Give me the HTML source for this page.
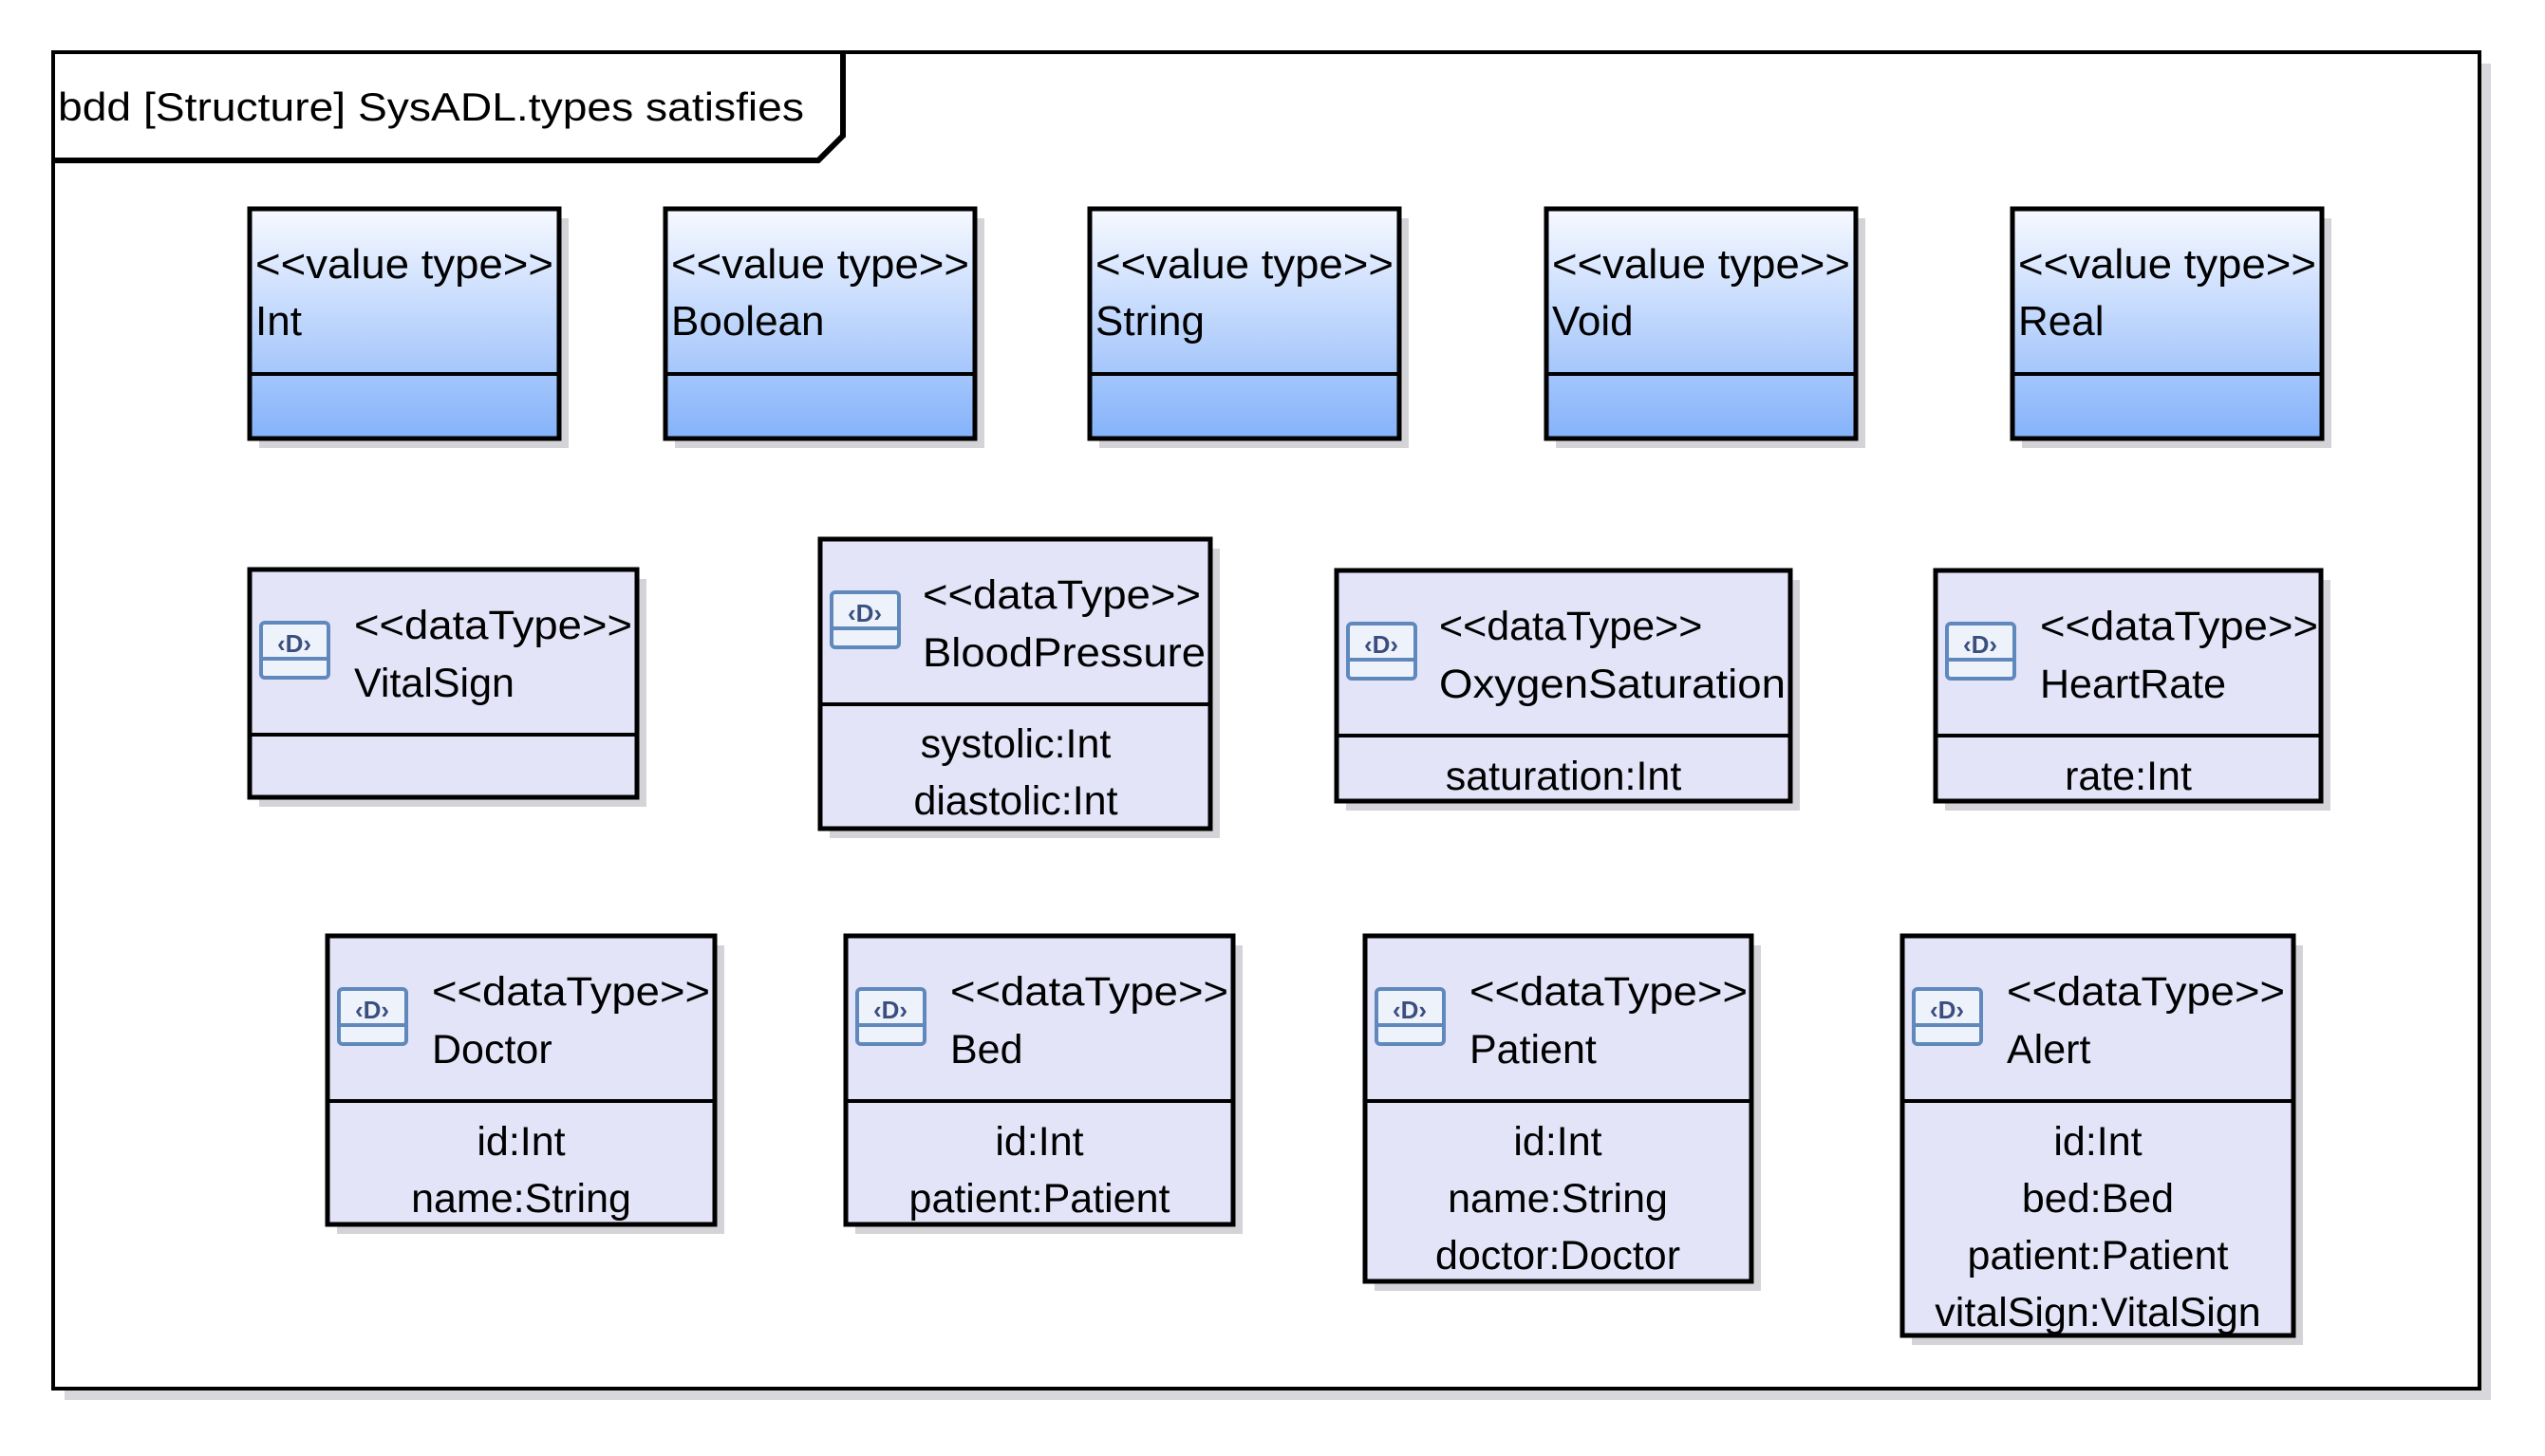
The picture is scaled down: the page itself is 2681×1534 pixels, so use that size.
<!DOCTYPE html>
<html><head><meta charset="utf-8"><style>
html,body{margin:0;padding:0;background:#fff;}
svg{display:block;}
text{font-family:"Liberation Sans","DejaVu Sans",sans-serif;fill:#000;}
</style></head><body>
<svg width="2681" height="1534" viewBox="0 0 2681 1534" xmlns="http://www.w3.org/2000/svg">
<defs>
<linearGradient id="vg" x1="0" y1="0" x2="0" y2="1">
<stop offset="0" stop-color="#f7f9ff"/>
<stop offset="1" stop-color="#84b2fa"/>
</linearGradient>
<g id="ic">
<rect x="2" y="2" width="71" height="58" rx="4" fill="#eef2fa" stroke="#5f88bd" stroke-width="4"/>
<line x1="2" y1="40" x2="73" y2="40" stroke="#5f88bd" stroke-width="4"/>
<text x="37" y="33" font-size="26" font-weight="bold" text-anchor="middle" style="fill:#3a4f80">‹D›</text>
</g>
</defs>

<rect x="68" y="67" width="2556" height="1408" fill="#d8d8dc"/>
<rect x="56" y="55" width="2556" height="1408" fill="#fff" stroke="#000" stroke-width="4"/>
<path d="M58 169 L862 169 L888 143 L888 57" fill="none" stroke="#000" stroke-width="6"/>
<text x="61" y="127" font-size="42" textLength="786" lengthAdjust="spacingAndGlyphs">bdd [Structure] SysADL.types satisfies</text>

<g font-size="44">
<g transform="translate(263,220)">
<rect x="10" y="10" width="326" height="242" fill="#d4d4d8"/>
<rect x="0" y="0" width="326" height="242" fill="url(#vg)" stroke="#000" stroke-width="5"/>
<line x1="0" y1="174" x2="326" y2="174" stroke="#000" stroke-width="4"/>
<text x="6" y="73" textLength="314" lengthAdjust="spacingAndGlyphs">&lt;&lt;value type&gt;&gt;</text><text x="6" y="133">Int</text>
</g>
<g transform="translate(701,220)">
<rect x="10" y="10" width="326" height="242" fill="#d4d4d8"/>
<rect x="0" y="0" width="326" height="242" fill="url(#vg)" stroke="#000" stroke-width="5"/>
<line x1="0" y1="174" x2="326" y2="174" stroke="#000" stroke-width="4"/>
<text x="6" y="73" textLength="314" lengthAdjust="spacingAndGlyphs">&lt;&lt;value type&gt;&gt;</text><text x="6" y="133">Boolean</text>
</g>
<g transform="translate(1148,220)">
<rect x="10" y="10" width="326" height="242" fill="#d4d4d8"/>
<rect x="0" y="0" width="326" height="242" fill="url(#vg)" stroke="#000" stroke-width="5"/>
<line x1="0" y1="174" x2="326" y2="174" stroke="#000" stroke-width="4"/>
<text x="6" y="73" textLength="314" lengthAdjust="spacingAndGlyphs">&lt;&lt;value type&gt;&gt;</text><text x="6" y="133">String</text>
</g>
<g transform="translate(1629,220)">
<rect x="10" y="10" width="326" height="242" fill="#d4d4d8"/>
<rect x="0" y="0" width="326" height="242" fill="url(#vg)" stroke="#000" stroke-width="5"/>
<line x1="0" y1="174" x2="326" y2="174" stroke="#000" stroke-width="4"/>
<text x="6" y="73" textLength="314" lengthAdjust="spacingAndGlyphs">&lt;&lt;value type&gt;&gt;</text><text x="6" y="133">Void</text>
</g>
<g transform="translate(2120,220)">
<rect x="10" y="10" width="326" height="242" fill="#d4d4d8"/>
<rect x="0" y="0" width="326" height="242" fill="url(#vg)" stroke="#000" stroke-width="5"/>
<line x1="0" y1="174" x2="326" y2="174" stroke="#000" stroke-width="4"/>
<text x="6" y="73" textLength="314" lengthAdjust="spacingAndGlyphs">&lt;&lt;value type&gt;&gt;</text><text x="6" y="133">Real</text>
</g>
</g>

<g font-size="43">
<g transform="translate(263,600)">
<rect x="10" y="10" width="408" height="240" fill="#d4d4d8"/>
<rect x="0" y="0" width="408" height="240" fill="#e4e4f8" stroke="#000" stroke-width="5"/>
<line x1="0" y1="174" x2="408" y2="174" stroke="#000" stroke-width="4"/>
<use href="#ic" x="10" y="54"/>
<text x="110" y="73" textLength="293" lengthAdjust="spacingAndGlyphs">&lt;&lt;dataType&gt;&gt;</text><text x="110" y="134">VitalSign</text>
</g>
<g transform="translate(864,568)">
<rect x="10" y="10" width="411" height="305" fill="#d4d4d8"/>
<rect x="0" y="0" width="411" height="305" fill="#e4e4f8" stroke="#000" stroke-width="5"/>
<line x1="0" y1="174" x2="411" y2="174" stroke="#000" stroke-width="4"/>
<use href="#ic" x="10" y="54"/>
<text x="108" y="73" textLength="293" lengthAdjust="spacingAndGlyphs">&lt;&lt;dataType&gt;&gt;</text><text x="108" y="134" textLength="298" lengthAdjust="spacingAndGlyphs">BloodPressure</text>
<text x="206" y="230" text-anchor="middle">systolic:Int</text>
<text x="206" y="290" text-anchor="middle">diastolic:Int</text>
</g>
<g transform="translate(1408,601)">
<rect x="10" y="10" width="478" height="243" fill="#d4d4d8"/>
<rect x="0" y="0" width="478" height="243" fill="#e4e4f8" stroke="#000" stroke-width="5"/>
<line x1="0" y1="174" x2="478" y2="174" stroke="#000" stroke-width="4"/>
<use href="#ic" x="10" y="54"/>
<text x="108" y="73">&lt;&lt;dataType&gt;&gt;</text><text x="108" y="134" textLength="365" lengthAdjust="spacingAndGlyphs">OxygenSaturation</text>
<text x="239" y="231" text-anchor="middle">saturation:Int</text>
</g>
<g transform="translate(2039,601)">
<rect x="10" y="10" width="406" height="243" fill="#d4d4d8"/>
<rect x="0" y="0" width="406" height="243" fill="#e4e4f8" stroke="#000" stroke-width="5"/>
<line x1="0" y1="174" x2="406" y2="174" stroke="#000" stroke-width="4"/>
<use href="#ic" x="10" y="54"/>
<text x="110" y="73" textLength="293" lengthAdjust="spacingAndGlyphs">&lt;&lt;dataType&gt;&gt;</text><text x="110" y="134">HeartRate</text>
<text x="203" y="231" text-anchor="middle">rate:Int</text>
</g>
<g transform="translate(345,986)">
<rect x="10" y="10" width="408" height="304" fill="#d4d4d8"/>
<rect x="0" y="0" width="408" height="304" fill="#e4e4f8" stroke="#000" stroke-width="5"/>
<line x1="0" y1="174" x2="408" y2="174" stroke="#000" stroke-width="4"/>
<use href="#ic" x="10" y="54"/>
<text x="110" y="73" textLength="293" lengthAdjust="spacingAndGlyphs">&lt;&lt;dataType&gt;&gt;</text><text x="110" y="134">Doctor</text>
<text x="204" y="231" text-anchor="middle">id:Int</text>
<text x="204" y="291" text-anchor="middle">name:String</text>
</g>
<g transform="translate(891,986)">
<rect x="10" y="10" width="408" height="304" fill="#d4d4d8"/>
<rect x="0" y="0" width="408" height="304" fill="#e4e4f8" stroke="#000" stroke-width="5"/>
<line x1="0" y1="174" x2="408" y2="174" stroke="#000" stroke-width="4"/>
<use href="#ic" x="10" y="54"/>
<text x="110" y="73" textLength="293" lengthAdjust="spacingAndGlyphs">&lt;&lt;dataType&gt;&gt;</text><text x="110" y="134">Bed</text>
<text x="204" y="231" text-anchor="middle">id:Int</text>
<text x="204" y="291" text-anchor="middle">patient:Patient</text>
</g>
<g transform="translate(1438,986)">
<rect x="10" y="10" width="407" height="364" fill="#d4d4d8"/>
<rect x="0" y="0" width="407" height="364" fill="#e4e4f8" stroke="#000" stroke-width="5"/>
<line x1="0" y1="174" x2="407" y2="174" stroke="#000" stroke-width="4"/>
<use href="#ic" x="10" y="54"/>
<text x="110" y="73" textLength="293" lengthAdjust="spacingAndGlyphs">&lt;&lt;dataType&gt;&gt;</text><text x="110" y="134">Patient</text>
<text x="203" y="231" text-anchor="middle">id:Int</text>
<text x="203" y="291" text-anchor="middle">name:String</text>
<text x="203" y="351" text-anchor="middle">doctor:Doctor</text>
</g>
<g transform="translate(2004,986)">
<rect x="10" y="10" width="412" height="421" fill="#d4d4d8"/>
<rect x="0" y="0" width="412" height="421" fill="#e4e4f8" stroke="#000" stroke-width="5"/>
<line x1="0" y1="174" x2="412" y2="174" stroke="#000" stroke-width="4"/>
<use href="#ic" x="10" y="54"/>
<text x="110" y="73" textLength="293" lengthAdjust="spacingAndGlyphs">&lt;&lt;dataType&gt;&gt;</text><text x="110" y="134">Alert</text>
<text x="206" y="231" text-anchor="middle">id:Int</text>
<text x="206" y="291" text-anchor="middle">bed:Bed</text>
<text x="206" y="351" text-anchor="middle">patient:Patient</text>
<text x="206" y="411" text-anchor="middle">vitalSign:VitalSign</text>
</g>
</g>
</svg>
</body></html>
